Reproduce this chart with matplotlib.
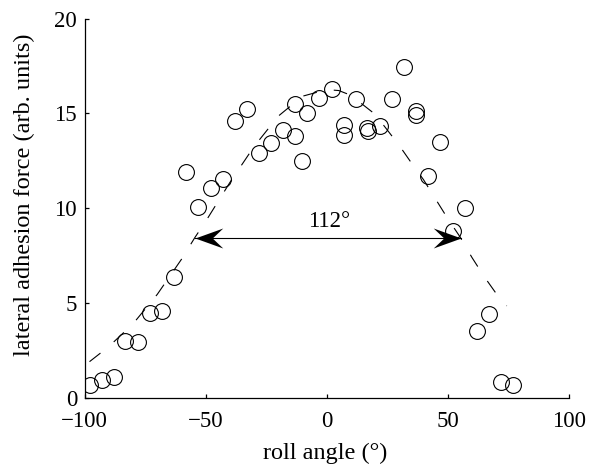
import matplotlib
matplotlib.use("Agg")
import matplotlib.pyplot as plt
from matplotlib.path import Path

# measured data points (roll angle in degrees, lateral adhesion force)
roll_angle = [-98, -93, -88, -83.5, -78, -73, -68, -63, -58, -53, -48, -43,
              -38, -33, -28, -23, -18, -13, -13, -10, -8, -3, 2, 7, 7, 12,
              16.5, 17.2, 22, 27, 32, 37, 37, 42, 47, 52, 57, 62, 67, 72, 77]
force = [0.65, 0.92, 1.1, 3.0, 2.92, 4.48, 4.59, 6.38, 11.89, 10.04, 11.08, 11.55,
         14.6, 15.24, 12.92, 13.45, 14.1, 13.8, 15.47, 12.48, 15.02, 15.82, 16.3, 14.38, 13.86, 15.75,
         14.2, 14.07, 14.33, 15.74, 17.43, 15.12, 14.91, 11.69, 13.5, 8.81, 10.02, 3.53, 4.41, 0.84, 0.67]

# dashed fit curve
fit_x = [-98, -90, -80, -70, -60, -54.4, -50, -40, -30, -20, -10, 0, 5, 10, 20, 30, 36, 40, 50, 55, 60, 65, 70, 74.4]
fit_y = [1.9, 2.7, 3.9, 5.45, 7.3, 8.46, 9.3, 11.35, 13.25, 14.85, 15.9, 16.25, 16.2, 15.95, 14.95, 13.3, 12.2, 11.5, 9.45, 8.5, 7.4, 6.4, 5.5, 4.84]

# width annotation
arrow_x = [-54.6, 55.5]
arrow_y = 8.44
width_label = "112°"
label_x = 0.9
label_y = 9.02

x_ticks = [-100, -50, 0, 50, 100]
y_ticks = [0, 5, 10, 15, 20]

plt.rcParams['font.family'] = ['Liberation Serif', 'DejaVu Serif']
plt.rcParams['lines.scale_dashes'] = False
plt.rcParams['axes.unicode_minus'] = True
FS = 16.5
LFS = 17.5

fig = plt.figure(figsize=(5.98, 4.66), dpi=100)
ax = fig.add_axes([0.1416, 0.1466, 0.8094, 0.8137])

ax.plot(fit_x, fit_y, color='black', lw=0.8, linestyle=(0, (10, 12.5)))
ax.plot(roll_angle, force, linestyle='none', marker='o', markersize=11.4,
        markerfacecolor='none', markeredgecolor='black', markeredgewidth=0.8)

# barbed arrow heads (tip at the marker origin)
head_left = Path([(0, 0), (1, 0.36), (0.62, 0), (1, -0.36), (0, 0)],
                 [Path.MOVETO, Path.LINETO, Path.LINETO, Path.LINETO, Path.CLOSEPOLY])
head_right = Path([(0, 0), (-1, 0.36), (-0.62, 0), (-1, -0.36), (0, 0)],
                  [Path.MOVETO, Path.LINETO, Path.LINETO, Path.LINETO, Path.CLOSEPOLY])
ax.plot(arrow_x, [arrow_y, arrow_y], color='black', lw=0.8)
ax.plot([arrow_x[0]], [arrow_y], linestyle='none', marker=head_left, markersize=40,
        color='black', markeredgewidth=0)
ax.plot([arrow_x[1]], [arrow_y], linestyle='none', marker=head_right, markersize=40,
        color='black', markeredgewidth=0)
ax.text(label_x, label_y, width_label, ha='center', va='baseline', fontsize=FS)

ax.set_xlim(-100, 100)
ax.set_ylim(0, 20)
ax.set_xticks(x_ticks)
ax.set_yticks(y_ticks)
ax.spines['top'].set_visible(False)
ax.spines['right'].set_visible(False)
for s in ('left', 'bottom'):
    ax.spines[s].set_linewidth(0.9)
ax.tick_params(direction='in', length=3.2, width=0.9, labelsize=FS)
ax.tick_params(axis='x', pad=9.5)
ax.tick_params(axis='y', pad=5.5)
ax.set_xlabel('roll angle (°)', fontsize=LFS)
ax.set_ylabel('lateral adhesion force (arb. units)', fontsize=LFS)
ax.xaxis.set_label_coords(0.4966, -0.118)
ax.yaxis.set_label_coords(-0.1027, 0.5345)

fig.savefig('out.png', dpi=100)
